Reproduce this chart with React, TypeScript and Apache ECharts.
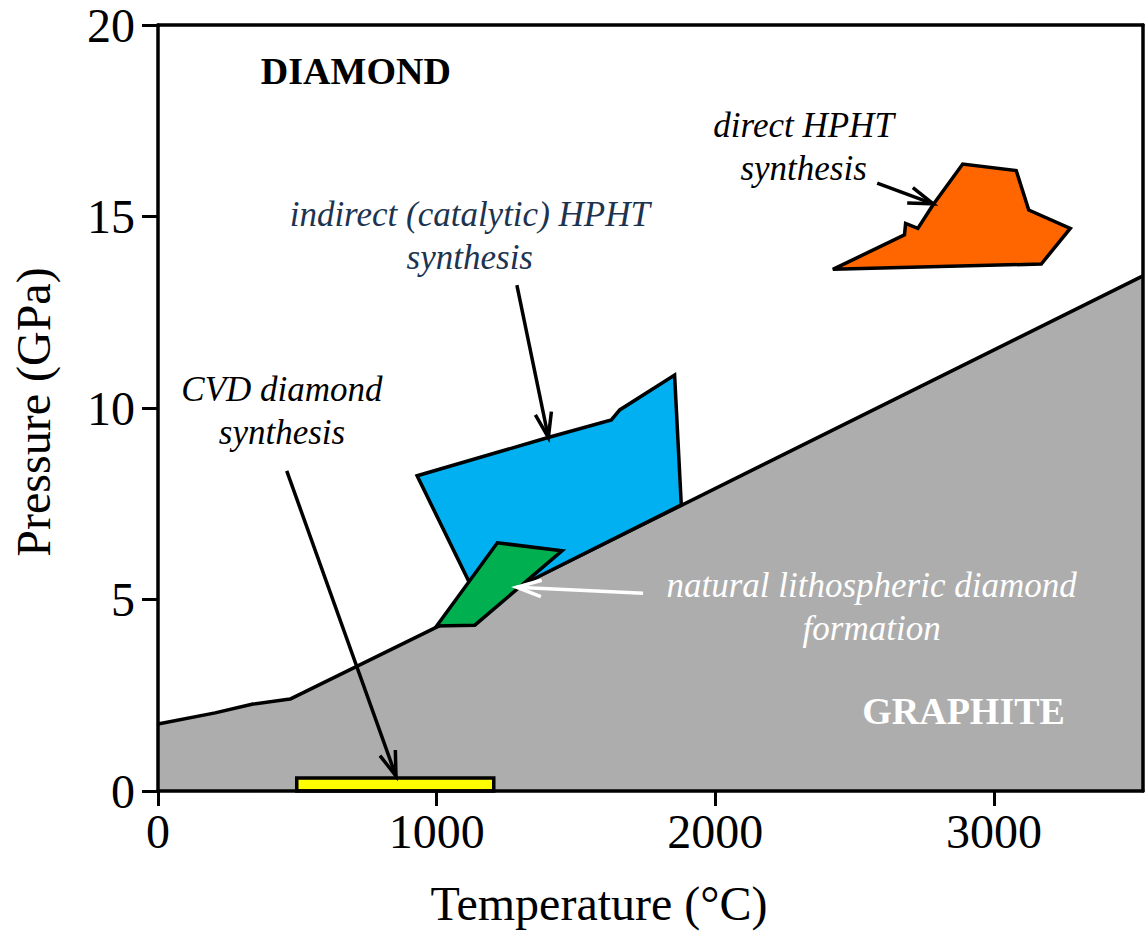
import React, { useEffect, useRef } from "react";
import * as echarts from "echarts";

// ---- data (temperature °C, pressure GPa) ----
const xTicks = [0, 1000, 2000, 3000];
const yTicks = [0, 5, 10, 15, 20];
const xMax = 3535;
const yMax = 20;

const graphiteBoundary = [
  [0, 1.75],
  [205, 2.04],
  [341, 2.27],
  [474, 2.4],
  [1000, 4.28],
  [3535, 13.45],
];
const cvdRegion = [
  [498, 0],
  [498, 0.34],
  [1205, 0.34],
  [1205, 0],
];
const indirectRegion = [
  [930, 8.23],
  [1400, 9.23],
  [1627, 9.69],
  [1657, 9.95],
  [1854, 10.86],
  [1878, 7.47],
  [1158, 4.84],
];
const naturalRegion = [
  [1000, 4.31],
  [1218, 6.48],
  [1450, 6.27],
  [1137, 4.33],
];
const directRegion = [
  [2422, 13.62],
  [2679, 14.52],
  [2683, 14.82],
  [2727, 14.69],
  [2781, 15.3],
  [2888, 16.37],
  [3080, 16.2],
  [3125, 15.17],
  [3274, 14.69],
  [3170, 13.76],
];
// [fromT, fromP, toT, toP]
const blackArrows = [
  [462, 8.36, 854, 0.39],
  [1288, 13.21, 1401, 9.23],
  [2581, 15.87, 2782, 15.33],
];
const whiteArrows = [[1741, 5.16, 1287, 5.32]];

const labelTexts = [
  "DIAMOND",
  "GRAPHITE",
  "indirect (catalytic) HPHT\nsynthesis",
  "direct HPHT\nsynthesis",
  "CVD diamond\nsynthesis",
  "natural lithospheric diamond\nformation",
];
const labelAnchors = [
  [710, 18.8],
  [2891, 2.09],
  [1119, 14.49],
  [2317, 16.81],
  [445, 9.92],
  [2561, 4.8],
];
const labelKinds = ["phaseDark", "phaseLight", "navy", "black", "black", "white"];

const FONT = "'Liberation Serif', 'Times New Roman', serif";

export default function App() {
  const ref = useRef<HTMLDivElement>(null);

  useEffect(() => {
    if (!ref.current) return;
    const chart = echarts.init(ref.current, undefined, { renderer: "svg" });

    const polygonSeries = (pts: number[][], fill: string, z: number) => ({
      type: "custom",
      coordinateSystem: "cartesian2d",
      silent: true,
      z,
      data: [pts[0]],
      renderItem: (_p: any, api: any) => ({
        type: "polygon",
        shape: { points: pts.map((p) => api.coord(p)) },
        style: { fill, stroke: "#000", lineWidth: 3.5, lineJoin: "miter" },
      }),
    });

    const arrowSeries = (rows: number[][], color: string) => ({
      type: "custom",
      coordinateSystem: "cartesian2d",
      silent: true,
      z: 6,
      encode: { x: [0, 2], y: [1, 3] },
      data: rows,
      renderItem: (_p: any, api: any) => {
        const a = api.coord([api.value(0), api.value(1)]);
        const b = api.coord([api.value(2), api.value(3)]);
        const ang = Math.atan2(b[1] - a[1], b[0] - a[0]);
        const L = 26;
        const s = 0.32;
        const w1 = [b[0] - L * Math.cos(ang - s), b[1] - L * Math.sin(ang - s)];
        const w2 = [b[0] - L * Math.cos(ang + s), b[1] - L * Math.sin(ang + s)];
        return {
          type: "group",
          children: [
            {
              type: "line",
              shape: { x1: a[0], y1: a[1], x2: b[0], y2: b[1] },
              style: { stroke: color, lineWidth: 3.5 },
            },
            {
              type: "polyline",
              shape: { points: [w1, b, w2] },
              style: { stroke: color, lineWidth: 3.5, fill: null },
            },
          ],
        };
      },
    });

    const kindStyle: Record<string, any> = {
      phaseDark: { fill: "#000", fontWeight: "bold", fontStyle: "normal", fontSize: 38 },
      phaseLight: { fill: "#fff", fontWeight: "bold", fontStyle: "normal", fontSize: 38 },
      navy: { fill: "#1c3450", fontWeight: "normal", fontStyle: "italic", fontSize: 35 },
      black: { fill: "#000", fontWeight: "normal", fontStyle: "italic", fontSize: 35 },
      white: { fill: "#fff", fontWeight: "normal", fontStyle: "italic", fontSize: 35 },
    };

    const textSeries = {
      type: "custom",
      coordinateSystem: "cartesian2d",
      silent: true,
      z: 8,
      data: labelAnchors,
      renderItem: (params: any, api: any) => {
        const c = api.coord([api.value(0), api.value(1)]);
        const k = kindStyle[labelKinds[params.dataIndex]];
        return {
          type: "text",
          style: {
            x: c[0],
            y: c[1],
            text: labelTexts[params.dataIndex],
            align: "center",
            verticalAlign: "middle",
            fontFamily: FONT,
            lineHeight: 43,
            ...k,
          },
        };
      },
    };

    const axisFont = { fontFamily: FONT, fontSize: 48, color: "#000" };

    chart.setOption({
      animation: false,
      backgroundColor: "#fff",
      grid: { left: 158, right: 2, top: 25, bottom: 140, outerBoundsMode: "none", containLabel: false },
      xAxis: [
        {
          type: "value",
          min: 0,
          max: xMax,
          z: 10,
          axisLine: { show: true, lineStyle: { color: "#000", width: 3.5 } },
          axisTick: { show: true, length: 15, lineStyle: { color: "#000", width: 3 }, customValues: xTicks },
          axisLabel: { ...axisFont, margin: 16, customValues: xTicks, formatter: (v: number) => String(v) },
          splitLine: { show: false },
        },
        {
          type: "value",
          position: "top",
          min: 0,
          max: xMax,
          z: 10,
          axisLine: { show: true, onZero: false, lineStyle: { color: "#000", width: 3.5 } },
          axisTick: { show: false },
          axisLabel: { show: false },
          splitLine: { show: false },
        },
      ],
      yAxis: [
        {
          type: "value",
          min: 0,
          max: yMax,
          interval: 5,
          z: 10,
          axisLine: { show: true, lineStyle: { color: "#000", width: 3.5 } },
          axisTick: { show: true, length: 16, lineStyle: { color: "#000", width: 3 }, customValues: yTicks },
          axisLabel: { ...axisFont, margin: 23, customValues: yTicks, formatter: (v: number) => String(v) },
          splitLine: { show: false },
        },
        {
          type: "value",
          position: "right",
          min: 0,
          max: yMax,
          z: 10,
          axisLine: { show: true, onZero: false, lineStyle: { color: "#000", width: 3.5 } },
          axisTick: { show: false },
          axisLabel: { show: false },
          splitLine: { show: false },
        },
      ],
      graphic: [
        {
          type: "text",
          x: 599,
          y: 903,
          style: {
            text: "Temperature (°C)",
            fontFamily: FONT,
            fontSize: 48,
            fill: "#000",
            align: "center",
            verticalAlign: "middle",
          },
        },
        {
          type: "text",
          x: 33,
          y: 412,
          rotation: Math.PI / 2,
          style: {
            text: "Pressure (GPa)",
            fontFamily: FONT,
            fontSize: 48,
            fill: "#000",
            align: "center",
            verticalAlign: "middle",
          },
        },
      ],
      series: [
        {
          type: "line",
          data: graphiteBoundary,
          showSymbol: false,
          silent: true,
          z: 2,
          lineStyle: { color: "#000", width: 3.5 },
          areaStyle: { color: "#adadad", opacity: 1 },
        },
        polygonSeries(cvdRegion, "#ffff00", 3),
        polygonSeries(indirectRegion, "#00b0f0", 3),
        polygonSeries(naturalRegion, "#00b050", 4),
        polygonSeries(directRegion, "#ff6600", 3),
        arrowSeries(blackArrows, "#000"),
        arrowSeries(whiteArrows, "#fff"),
        textSeries,
      ],
    });

    return () => chart.dispose();
  }, []);

  return (
    <div
      ref={ref}
      style={{ position: "fixed", left: 0, top: 0, width: 1145, height: 931 }}
    />
  );
}
